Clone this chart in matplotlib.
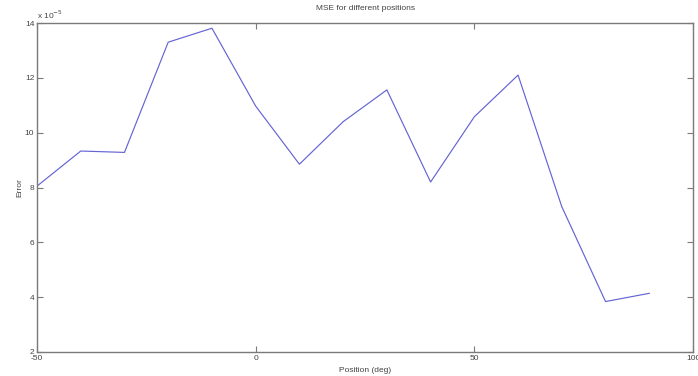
import matplotlib
matplotlib.use("Agg")
import matplotlib.pyplot as plt

positions = [-50, -40, -30, -20, -10, 0, 10, 20, 30, 40, 50, 60, 70, 80, 90]
errors_e5 = [8.05, 9.33, 9.28, 13.30, 13.81, 10.97, 8.85, 10.40, 11.56, 8.20,
             10.58, 12.10, 7.30, 3.84, 4.14]
x_ticks = [-50, 0, 50, 100]
y_ticks = [2, 4, 6, 8, 10, 12, 14]

plt.rcParams['font.family'] = ['Liberation Sans', 'DejaVu Sans']

fig = plt.figure(figsize=(6.98, 3.76), dpi=100)
ax = fig.add_axes([37/698, 1 - 352/376, (693 - 37)/698, (352 - 23)/376])

ax.plot(positions, errors_e5, color='#6464d4', linewidth=0.85)

ax.set_xlim(-50, 100)
ax.set_ylim(2, 14)
ax.set_xticks(x_ticks)
ax.set_yticks(y_ticks)
ax.set_xticklabels([str(v) for v in x_ticks])
ax.set_yticklabels([str(v) for v in y_ticks])

grey = '#7a7a7a'
for s in ax.spines.values():
    s.set_color(grey)
    s.set_linewidth(1.0)
ax.tick_params(direction='in', length=4, width=0.8, color=grey,
               labelsize=6, labelcolor='#444444', top=True, right=True, pad=2)

ax.set_title('MSE for different positions', fontsize=6, color='#444444', pad=9)
ax.set_xlabel('Position (deg)', fontsize=6, color='#444444', labelpad=4)
ax.set_ylabel('Error', fontsize=6, color='#444444', labelpad=1)
ax.text(0.0, 1.005, r'x 10$^{-5}$', transform=ax.transAxes, fontsize=6,
        color='#444444', ha='left', va='bottom')

fig.savefig('out.png', dpi=100, facecolor='white')
